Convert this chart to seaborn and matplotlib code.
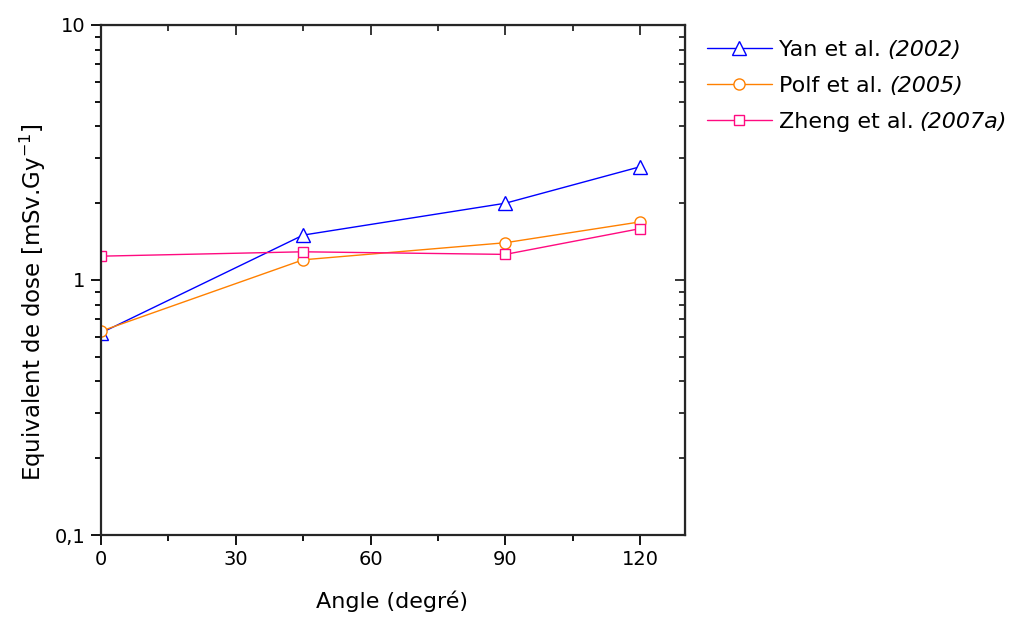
import numpy as np
import pandas as pd
import seaborn as sns
import matplotlib.pyplot as plt
from matplotlib.ticker import LogLocator, FixedLocator, FuncFormatter, NullFormatter

# Données
angles = [0, 45, 90, 120]
yan = [0.62, 1.50, 2.00, 2.78]
polf = [0.63, 1.20, 1.40, 1.69]
zheng = [1.24, 1.29, 1.26, 1.59]

auteurs = ['Yan et al.', 'Polf et al.', 'Zheng et al.']
annees = ['(2002)', '(2005)', '(2007a)']
couleurs = ['#0000FF', '#FF8000', '#FF0A80']
marqueurs = ['^', 'o', 's']
tailles = [9.5, 8, 7.5]

sns.set_style('ticks')
plt.rcParams['font.family'] = ['DejaVu Sans']

df = pd.DataFrame({
    'angle': angles * 3,
    'dose': yan + polf + zheng,
    'serie': [auteurs[0]] * 4 + [auteurs[1]] * 4 + [auteurs[2]] * 4,
})

fig = plt.figure(figsize=(10.12, 6.17), dpi=100)
ax = fig.add_axes([0.0998, 0.1329, 0.5771, 0.8266])

for lab, c, m, ms in zip(auteurs, couleurs, marqueurs, tailles):
    sub = df[df['serie'] == lab]
    sns.lineplot(data=sub, x='angle', y='dose', ax=ax, color=c, marker=m,
                 markersize=ms, markerfacecolor='white', markeredgecolor=c,
                 markeredgewidth=1.0, linewidth=1.0, label=lab)

ax.set_yscale('log')
ax.set_xlim(0, 130)
ax.set_ylim(0.1, 10)

ax.xaxis.set_major_locator(FixedLocator([0, 30, 60, 90, 120]))
ax.xaxis.set_minor_locator(FixedLocator([15, 45, 75, 105]))
ax.yaxis.set_major_locator(LogLocator(base=10, numticks=5))
ax.yaxis.set_minor_locator(LogLocator(base=10, subs=np.arange(2, 10), numticks=20))
ax.yaxis.set_major_formatter(FuncFormatter(lambda v, p: {0.1: '0,1', 1: '1', 10: '10'}.get(round(v, 3), '')))
ax.yaxis.set_minor_formatter(NullFormatter())

ax.tick_params(which='both', direction='out', width=1.3, labelsize=14, colors='black')
ax.tick_params(which='major', length=7, pad=4)
ax.tick_params(which='minor', length=4)
for s in ax.spines.values():
    s.set_linewidth(1.6)

# graduations internes en haut et à droite
axt = ax.secondary_xaxis('top')
axt.xaxis.set_major_locator(FixedLocator([0, 30, 60, 90, 120]))
axt.xaxis.set_minor_locator(FixedLocator([15, 45, 75, 105]))
axt.tick_params(which='both', direction='in', labeltop=False, width=1.3)
axt.tick_params(which='major', length=7)
axt.tick_params(which='minor', length=4)
axr = ax.secondary_yaxis('right')
axr.yaxis.set_major_locator(LogLocator(base=10, numticks=5))
axr.yaxis.set_minor_locator(LogLocator(base=10, subs=np.arange(2, 10), numticks=20))
axr.tick_params(which='both', direction='in', labelright=False, width=1.3)
axr.tick_params(which='major', length=7)
axr.tick_params(which='minor', length=4)
axr.yaxis.set_major_formatter(NullFormatter())
axr.yaxis.set_minor_formatter(NullFormatter())

ax.set_xlabel('Angle (degré)', fontsize=16, color='black')
ax.xaxis.set_label_coords(0.498, -0.108)
ax.set_ylabel(r'Equivalent de dose [mSv.Gy$^{-1}$]', fontsize=16.5, color='black')
ax.yaxis.set_label_coords(-0.09, 0.457)

leg = ax.legend(loc='upper left', bbox_to_anchor=(0.690, 0.950), bbox_transform=fig.transFigure,
                frameon=False, fontsize=16, handlelength=2.9, handletextpad=0.35,
                labelspacing=0.72, borderaxespad=0)
for t in leg.get_texts():
    t.set_color('black')

# années en italique à la suite des noms
for t, an in zip(leg.get_texts(), annees):
    ax.annotate(an, xy=(1, 0), xycoords=t, xytext=(4, 0), textcoords='offset points',
                ha='left', va='bottom', fontsize=16, style='italic', color='black',
                annotation_clip=False, zorder=10)

plt.savefig('out.png', dpi=100)
